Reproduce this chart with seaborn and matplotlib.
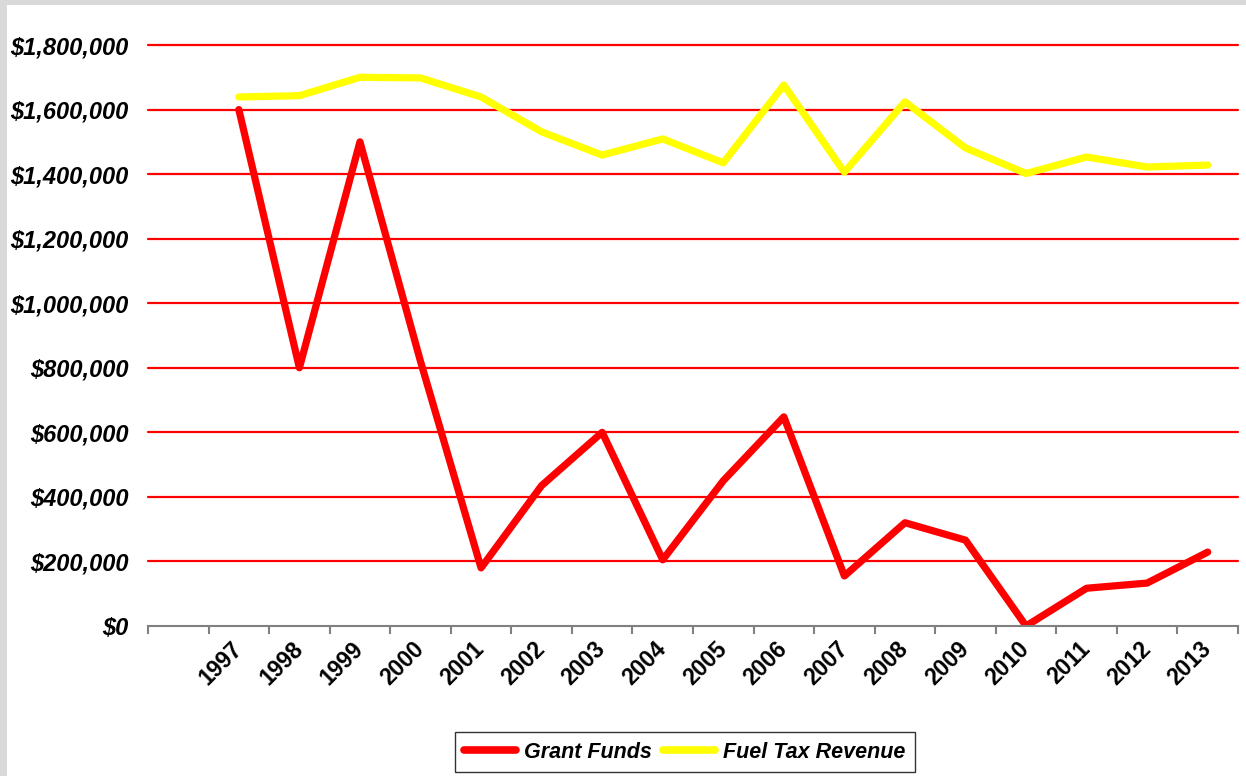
import numpy as np
import pandas as pd
import seaborn as sns
import matplotlib.pyplot as plt
from matplotlib.patches import Rectangle
from matplotlib.ticker import FuncFormatter, FixedLocator

years = [str(y) for y in range(1997, 2014)]
grant_funds = [1600000, 800000, 1500000, 820000, 180000, 435000, 600000, 205000,
               450000, 648000, 155000, 320000, 266000, 0, 117000, 133000, 229000]
fuel_tax = [1639000, 1643000, 1700000, 1698000, 1639000, 1531000, 1459000, 1509000,
            1435000, 1676000, 1406000, 1624000, 1481000, 1402000, 1453000, 1422000, 1428000]
series_names = ["Grant Funds", "Fuel Tax Revenue"]
series_colors = ["#FF0000", "#FFFF00"]

# first category slot is empty in the original, so years sit at 1..17
pos = np.arange(1, len(years) + 1)
df = pd.DataFrame({
    "pos": np.concatenate([pos, pos]),
    "value": grant_funds + fuel_tax,
    "series": [series_names[0]] * len(years) + [series_names[1]] * len(years),
})

sns.set_style("white")
plt.rcParams['font.family'] = ['Liberation Sans', 'DejaVu Sans']
plt.rcParams['text.color'] = 'black'
plt.rcParams['xtick.color'] = 'black'
plt.rcParams['ytick.color'] = 'black'

fig = plt.figure(figsize=(12.46, 7.76), dpi=100)
fig.patch.set_facecolor("white")
# grey frame on top / left edge
fig.patches.append(Rectangle((0, 0), 7 / 1246, 1, transform=fig.transFigure,
                             facecolor="#D9D9D9", edgecolor="none", zorder=-1))
fig.patches.append(Rectangle((0, 1 - 5 / 776), 1, 5 / 776, transform=fig.transFigure,
                             facecolor="#D9D9D9", edgecolor="none", zorder=-1))

ax = fig.add_axes([148 / 1246, 1 - 626 / 776, (1238 - 148) / 1246, (626 - 45) / 776])
ax.set_facecolor("white")

for y in np.arange(200000, 1800001, 200000):
    ax.axhline(y, color="#FF0000", lw=1.6, zorder=1, clip_on=False)

sns.lineplot(data=df, x="pos", y="value", hue="series", palette=series_colors,
             hue_order=series_names, linewidth=5.2, ax=ax, zorder=3,
             legend=False, solid_capstyle="round", solid_joinstyle="round")

ax.set_xlim(-0.5, len(years) + 0.5)
ax.set_ylim(0, 1800000)
ax.set_yticks(np.arange(0, 1800001, 200000))
ax.yaxis.set_major_formatter(FuncFormatter(lambda v, p: f"${v:,.0f}"))
ax.tick_params(axis="y", length=0, pad=14)
for lab in ax.get_yticklabels():
    lab.set_fontsize(17)
    lab.set_fontweight("bold")
    lab.set_fontstyle("italic")
    lab.set_color("black")

ax.set_xticks(pos)
ax.set_xticklabels(years, rotation=45, ha="right", va="center",
                   rotation_mode="anchor", fontsize=16.5, fontweight="bold",
                   color="black")
ax.xaxis.set_minor_locator(FixedLocator(np.arange(-0.5, len(years) + 1, 1)))
ax.tick_params(axis="x", which="major", length=0, pad=14)
ax.tick_params(axis="x", which="minor", bottom=True, length=6, width=1.5,
               color="#808080", direction="out")

for s in ["left", "right", "top"]:
    ax.spines[s].set_visible(False)
ax.spines["bottom"].set_color("#808080")
ax.spines["bottom"].set_linewidth(1.5)
ax.spines["bottom"].set_zorder(4)
ax.set_xlabel("")
ax.set_ylabel("")

handles = [plt.Line2D([0], [0], color=c, lw=5.5, solid_capstyle="round")
           for c in series_colors]
leg = fig.legend(handles, series_names, loc="center", ncol=2,
                 bbox_to_anchor=(685 / 1246, 1 - 752 / 776), frameon=True,
                 fancybox=False, edgecolor="black", handlelength=2.4,
                 handletextpad=0.4, columnspacing=0.5, borderpad=0.45,
                 prop={"family": "Liberation Sans", "weight": "bold",
                       "style": "italic", "size": 15.5})
leg.get_frame().set_linewidth(1.0)
for t in leg.get_texts():
    t.set_color("black")

fig.savefig("out.png", dpi=100)
